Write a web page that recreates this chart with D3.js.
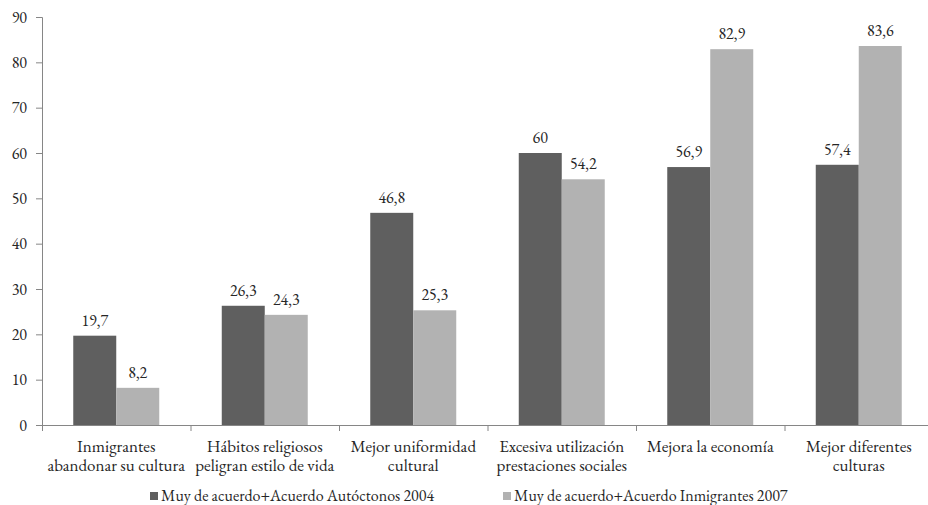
<!DOCTYPE html>
<html>
<head>
<meta charset="utf-8">
<script src="https://cdn.jsdelivr.net/npm/d3@7"></script>
<style>
  html, body { margin: 0; padding: 0; background: #fff; }
  svg { display: block; }
</style>
</head>
<body>
<svg id="chart" width="928" height="505"></svg>
<script>
// Categories (two-line labels) and values per series
const categories = [
  ["Inmigrantes", "abandonar su cultura"],
  ["Hábitos religiosos", "peligran estilo de vida"],
  ["Mejor uniformidad", "cultural"],
  ["Excesiva utilización", "prestaciones sociales"],
  ["Mejora la economía"],
  ["Mejor diferentes", "culturas"]
];
const seriesNames = [
  "Muy de acuerdo+Acuerdo Autóctonos 2004",
  "Muy de acuerdo+Acuerdo Inmigrantes 2007"
];
const autoctonos2004 = [19.7, 26.3, 46.8, 60, 56.9, 57.4];
const inmigrantes2007 = [8.2, 24.3, 25.3, 54.2, 82.9, 83.6];
const yTicks = [0, 10, 20, 30, 40, 50, 60, 70, 80, 90];

const colors = ["#5f5f5f", "#b2b2b2"];
const series = [autoctonos2004, inmigrantes2007];
const FONT = '"EB Garamond", "Liberation Serif", serif';
const INK = "#262626";

const svg = d3.select("#chart");
const plotLeft = 42, plotRight = 933, plotTop = 17, plotBottom = 425;

const x0 = d3.scaleBand()
  .domain(d3.range(categories.length))
  .range([plotLeft, plotRight])
  .paddingInner(0).paddingOuter(0);

const x1 = d3.scaleBand()
  .domain(d3.range(series.length))
  .range([0, x0.bandwidth()])
  .paddingInner(0).paddingOuter(0.727);

const y = d3.scaleLinear().domain([0, 90]).range([plotBottom, plotTop]);

const fmt = v => String(v).replace(".", ",");

// Y axis
const yAxis = svg.append("g")
  .attr("transform", `translate(${plotLeft},0)`)
  .call(d3.axisLeft(y).tickValues(yTicks).tickSize(6).tickPadding(9).tickFormat(d3.format("d")));
yAxis.select(".domain").attr("stroke", "#868686");
yAxis.selectAll(".tick line").attr("stroke", "#868686");
yAxis.selectAll(".tick text")
  .style("font-family", FONT)
  .style("font-size", "16px").style("fill", INK);

// Bars
const groups = svg.append("g").selectAll("g")
  .data(categories.map((c, i) => i))
  .join("g")
  .attr("transform", i => `translate(${x0(i)},0)`);

groups.selectAll("rect")
  .data(i => series.map((s, k) => ({ k, v: s[i] })))
  .join("rect")
  .attr("x", d => x1(d.k))
  .attr("width", x1.bandwidth())
  .attr("y", d => y(d.v))
  .attr("height", d => y(0) - y(d.v))
  .attr("fill", d => colors[d.k]);

groups.selectAll("text.val")
  .data(i => series.map((s, k) => ({ k, v: s[i] })))
  .join("text")
  .attr("class", "val")
  .attr("x", d => x1(d.k) + x1.bandwidth() / 2)
  .attr("y", d => y(d.v) - 10)
  .attr("text-anchor", "middle")
  .style("font-family", FONT)
  .style("font-size", "16px").style("fill", INK)
  .text(d => fmt(d.v));

// X axis with category separators
const xAxis = svg.append("g");
xAxis.append("line")
  .attr("x1", plotLeft).attr("x2", plotRight)
  .attr("y1", plotBottom + 0.5).attr("y2", plotBottom + 0.5)
  .attr("stroke", "#868686");
xAxis.selectAll("line.sep")
  .data(d3.range(categories.length + 1))
  .join("line")
  .attr("class", "sep")
  .attr("x1", i => (i < categories.length ? x0(i) : plotRight) + 0.5)
  .attr("x2", i => (i < categories.length ? x0(i) : plotRight) + 0.5)
  .attr("y1", plotBottom).attr("y2", plotBottom + 6)
  .attr("stroke", "#868686");

// Category labels
svg.append("g").selectAll("text")
  .data(categories.map((c, i) => ({ c, i })))
  .join("text")
  .attr("x", d => x0(d.i) + x0.bandwidth() / 2)
  .attr("y", 452)
  .attr("text-anchor", "middle")
  .style("font-family", FONT)
  .style("font-size", "17px").style("fill", INK)
  .each(function (d) {
    d3.select(this).selectAll("tspan")
      .data(d.c)
      .join("tspan")
      .attr("x", x0(d.i) + x0.bandwidth() / 2)
      .attr("dy", (t, j) => j === 0 ? 0 : 18.5)
      .text(t => t);
  });

// Legend
const legendX = [150, 503];
const legend = svg.append("g").selectAll("g")
  .data(seriesNames.map((n, k) => ({ n, k })))
  .join("g")
  .attr("transform", d => `translate(${legendX[d.k]},492)`);
legend.append("rect")
  .attr("width", 8).attr("height", 8)
  .attr("fill", d => colors[d.k]);
legend.append("text")
  .attr("x", 11).attr("y", 9)
  .style("font-family", FONT)
  .style("font-size", "16px").style("fill", INK)
  .text(d => d.n);
</script>
</body>
</html>
